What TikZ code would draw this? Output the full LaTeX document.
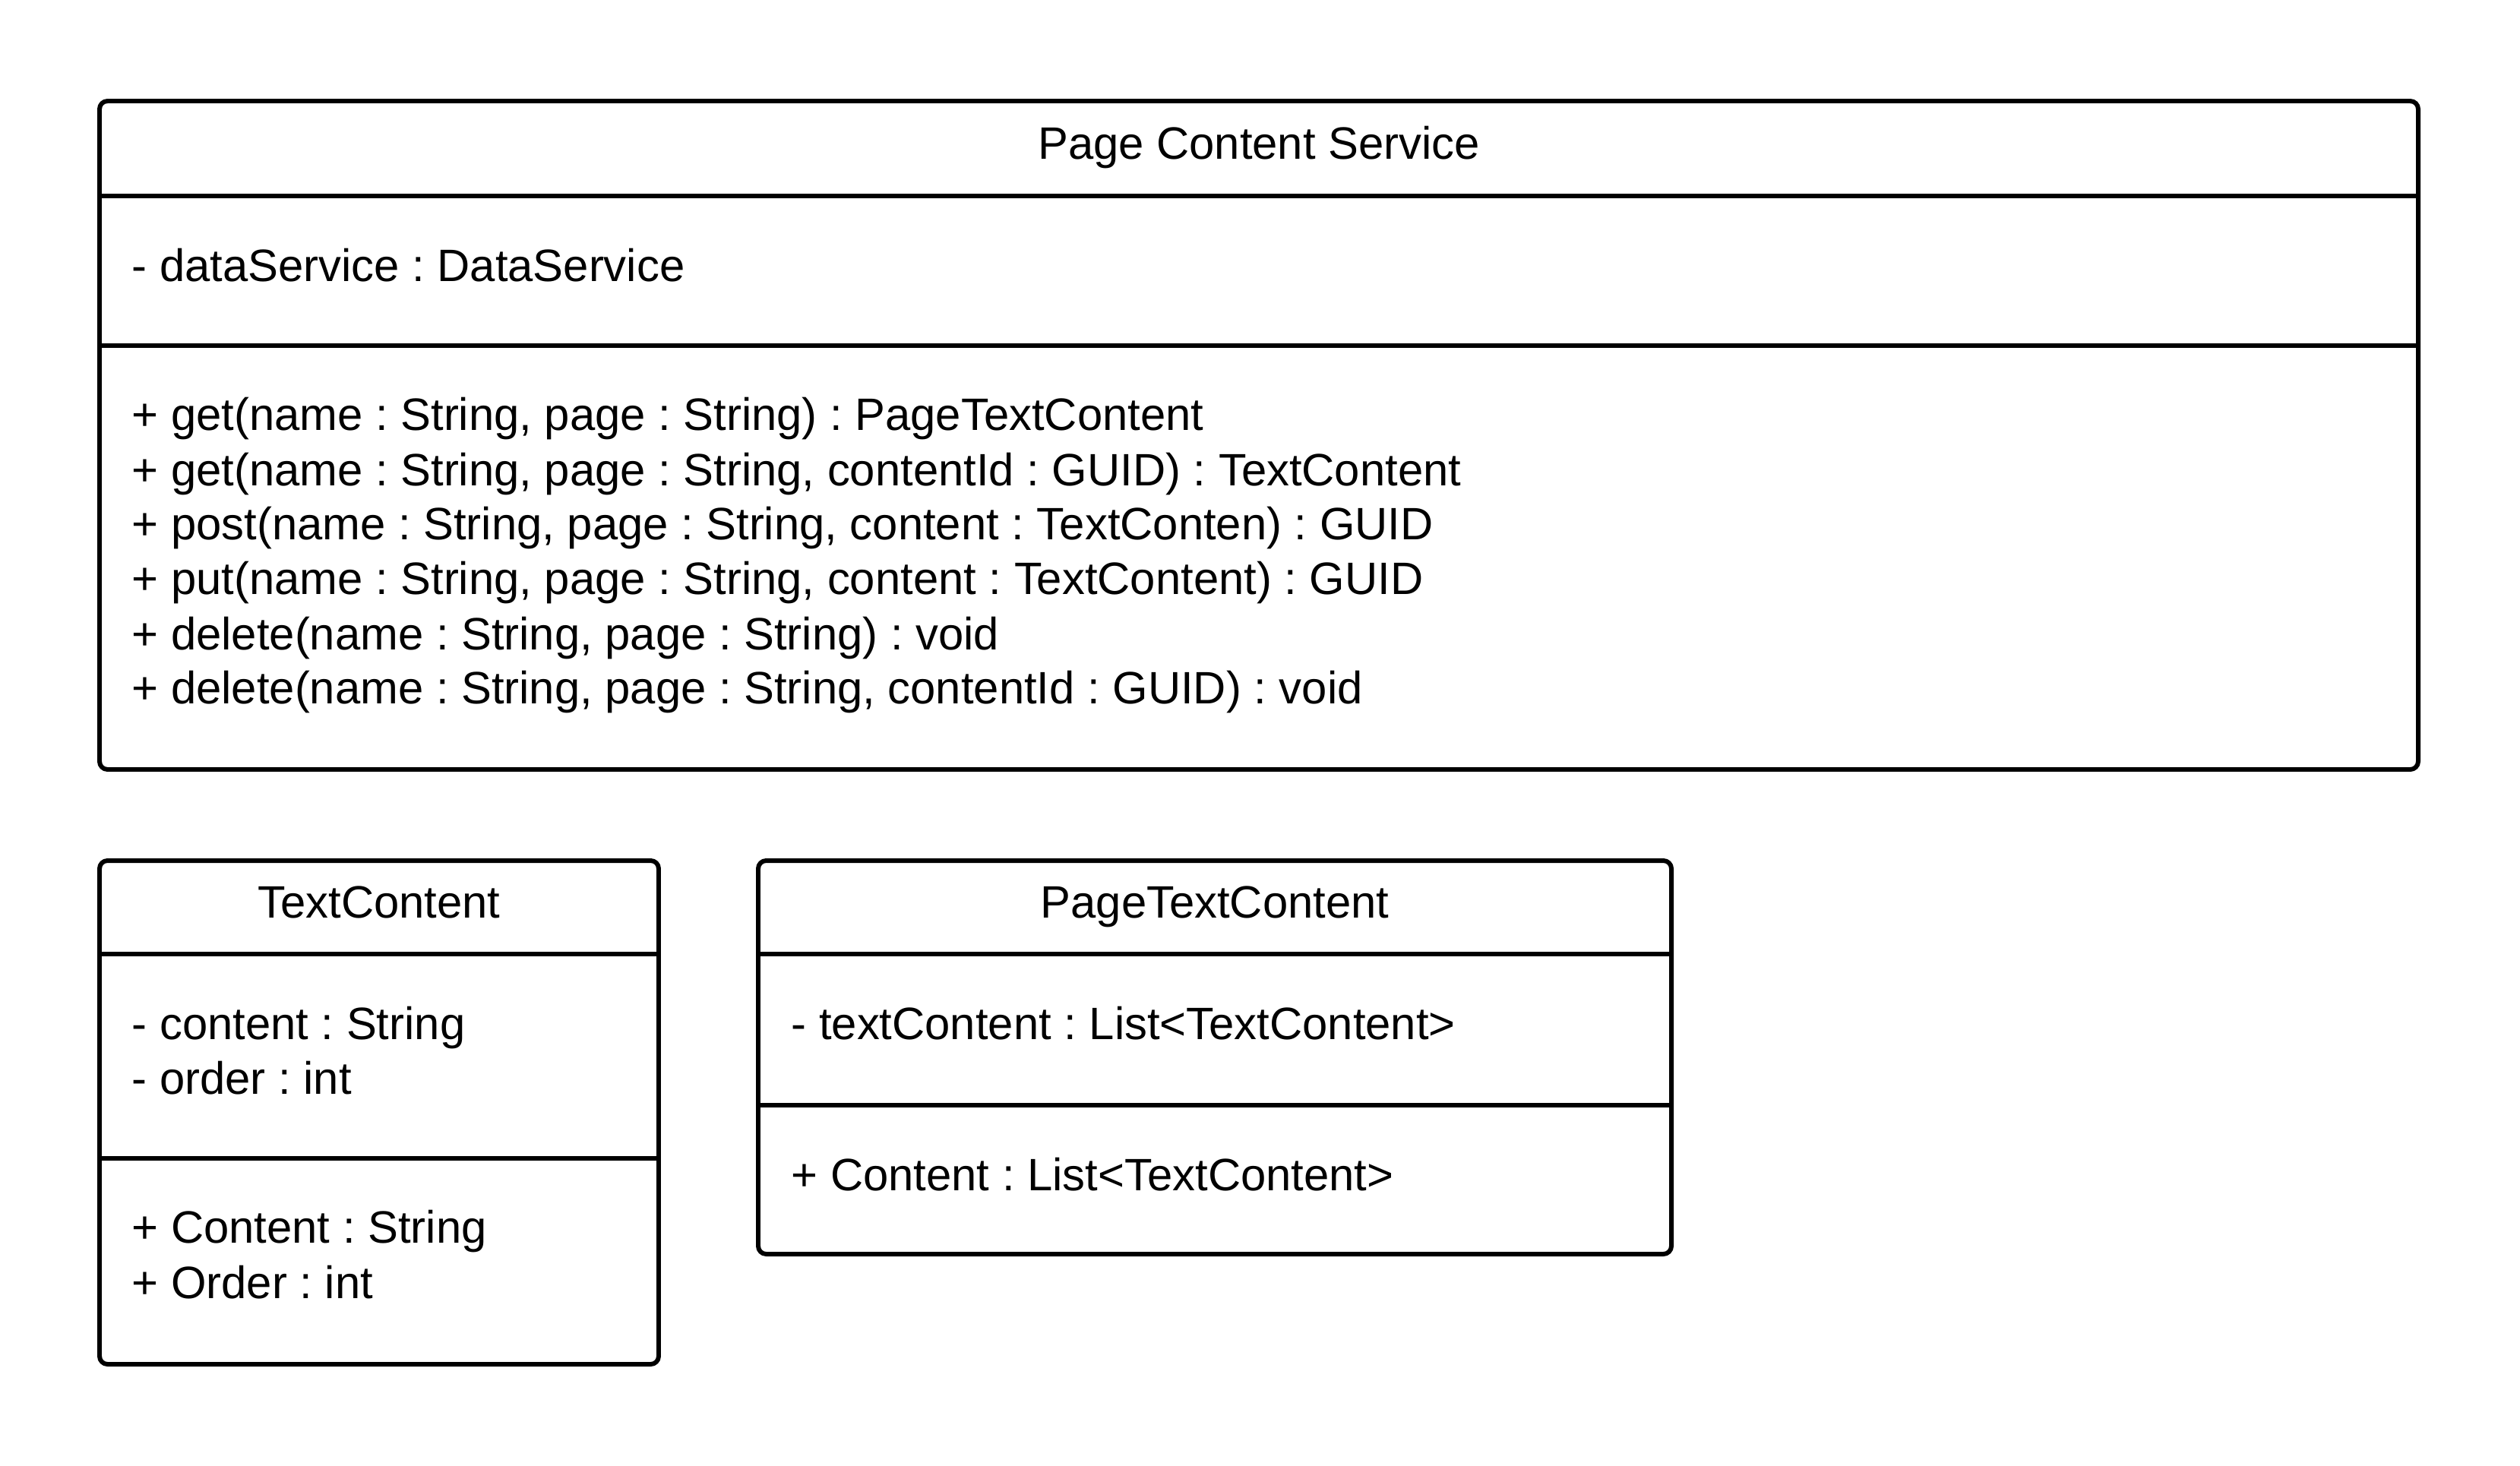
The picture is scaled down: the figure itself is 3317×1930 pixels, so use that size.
\documentclass[tikz,border=0pt]{standalone}
\usepackage{fontspec}
\setmainfont{Liberation Sans}
\frenchspacing
\begin{document}
\begin{tikzpicture}[x=0.01cm,y=-0.01cm,line join=round,font=\fontsize{17}{20.5}\selectfont]
\tikzset{
	classbox/.style={draw,line width=1.7pt,rounded corners=3pt},
	sepline/.style={line width=1.6pt},
	classname/.style={anchor=base,inner sep=0pt},
	member/.style={anchor=base west,inner sep=0pt}
}
\useasboundingbox (0,0) rectangle (3317,1930);

% Page Content Service
\draw[classbox] (131,133) rectangle (3183,1013);
\draw[sepline] (131,258) -- (3183,258);
\draw[sepline] (131,455) -- (3183,455);
\node[classname] (pcsname) at (1657,209) {Page Content Service};
\node[member] (pcsattr) at (173,370) {- dataService : DataService};
\node[member] (pcsget) at (173,566) {+ get(name : String, page : String) : PageTextContent};
\node[member] (pcsgetid) at (173,639) {+ get(name : String, page : String, contentId : GUID) : TextContent};
\node[member] (pcspost) at (173,710) {+ post(name : String, page : String, content : TextConten) : GUID};
\node[member] (pcsput) at (173,782) {+ put(name : String, page : String, content : TextContent) : GUID};
\node[member] (pcsdel) at (173,855) {+ delete(name : String, page : String) : void};
\node[member] (pcsdelid) at (173,926) {+ delete(name : String, page : String, contentId : GUID) : void};

% TextContent
\draw[classbox] (131,1133) rectangle (867,1796);
\draw[sepline] (131,1256) -- (867,1256);
\draw[sepline] (131,1525) -- (867,1525);
\node[classname] (tcname) at (499,1208) {TextContent};
\node[member] (tccontent) at (173,1368) {- content : String};
\node[member] (tcorder) at (173,1440) {- order : int};
\node[member] (tcContent) at (173,1636) {+ Content : String};
\node[member] (tcOrder) at (173,1709) {+ Order : int};

% PageTextContent
\draw[classbox] (998,1133) rectangle (2200,1651);
\draw[sepline] (998,1256) -- (2200,1256);
\draw[sepline] (998,1455) -- (2200,1455);
\node[classname] (ptcname) at (1599,1208) {PageTextContent};
\node[member] (ptcattr) at (1041,1368) {- textContent : List<TextContent>};
\node[member] (ptcprop) at (1041,1567) {+ Content : List<TextContent>};
\end{tikzpicture}
\end{document}
